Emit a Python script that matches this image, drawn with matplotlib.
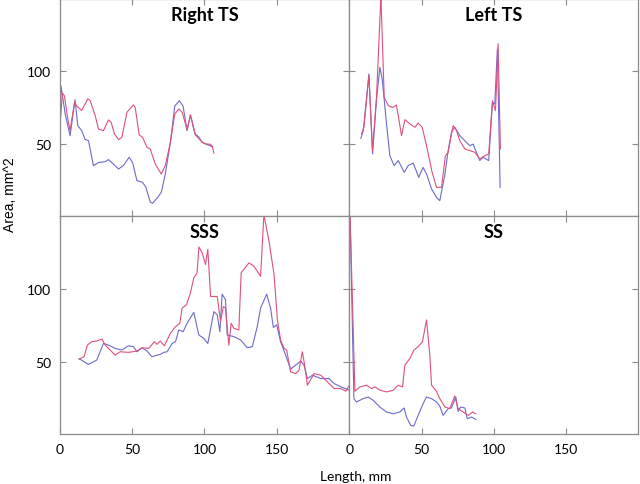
import matplotlib
matplotlib.use('Agg')
import matplotlib.pyplot as plt

# ---------------------------------------------------------------
# Data (length in mm, area in mm^2)
rts_blue_x = [0, 1, 4, 7.3, 10.7, 12.6, 15.3, 17.6, 20, 23.4, 26.9, 31.5, 33.8,
              37.2, 40.7, 44.2, 48, 50.4, 53.4, 57.3, 59.6, 62.6, 64.2, 67.2,
              70.2, 73, 76.5, 79.5, 82.7, 85.2, 88, 90.3, 93.3, 96, 98.4, 101,
              103.7, 105.3]
rts_blue_y = [60, 90, 70, 55.5, 80.4, 62.5, 59, 53, 52, 34.8, 37, 37.5, 39,
              35.8, 32.5, 35, 40.6, 37, 24.4, 23.3, 19.8, 9.5, 8.8, 12.2,
              16.4, 29, 51, 76, 79.7, 76, 59, 69.8, 57, 54.7, 51, 49.6,
              48.6, 47.9]
rts_pink_x = [0, 2, 3.4, 5.7, 7.3, 10.3, 11.9, 15.3, 19.5, 21.1, 24.6, 26.9,
              30.3, 33.8, 35.6, 37.9, 40.7, 43, 46.5, 51, 52.2, 55, 57.3, 60.3,
              62.6, 66, 70.2, 73, 76.5, 79.5, 82.3, 84.6, 88, 90.3, 93.8, 98.4,
              101, 104, 105.3, 106.5]
rts_pink_y = [58, 85, 83, 67, 59, 78.6, 76, 72.9, 81, 79.8, 69.4, 60, 59,
              66.4, 64.8, 56.8, 52.8, 54.4, 71.7, 76.8, 75, 56, 54.4, 47.5,
              46.3, 36, 29, 35, 51, 70.5, 74, 71.7, 59.6, 70, 56, 51, 49.8,
              49.6, 48.5, 43.4]

lts_blue_x = [7.9, 9.6, 13.5, 16, 18.8, 21.1, 22.7, 25.7, 28, 31, 33.8, 38,
              40.7, 44.2, 48, 51, 53.4, 56.9, 60.3, 62.6, 66, 68.4, 70.7, 73,
              76.5, 81.1, 83.4, 85.7, 90.3, 92.6, 96.5, 99.1, 100.7, 102.5,
              104.4]
lts_blue_y = [53.7, 59, 98.2, 42.9, 81, 102.8, 94.7, 63.6, 41.7, 34.8, 38.3,
              30.2, 34.8, 36.6, 26.7, 33.6, 29.1, 18.7, 12.9, 10.6, 27.8, 45.2,
              57.9, 61.3, 55.5, 50.9, 48.6, 49.7, 38.3, 40.6, 38.3, 78.5, 77.4,
              115.5, 19.8]
lts_pink_x = [8.4, 10, 13.5, 16, 18.8, 21.8, 24.1, 26.9, 29.9, 32.6, 36.1,
              38.4, 41.9, 45.4, 47.6, 50.4, 53.4, 57.3, 60.3, 63.8, 66.5, 68.4,
              70.7, 71.9, 74.2, 76.5, 80, 83.4, 86.9, 90.3, 93.8, 96.5, 99.1,
              101.2, 103, 104.6]
lts_pink_y = [56.7, 61.3, 97, 45.2, 83, 152, 82, 76.3, 75, 76.7, 55.5, 66.6,
              63.6, 61.3, 64.3, 61.3, 48.6, 30.2, 19.8, 19.8, 41.7, 44, 56.7,
              62.5, 59, 52, 46.3, 45.2, 44, 39.5, 41.7, 42.9, 79.7, 72.8, 119,
              46.3]

sss_blue_x = [13.5, 19.9, 25.7, 30.3, 33.8, 38.4, 43, 47.6, 51, 53.4, 56.9,
              60.3, 63.8, 67.2, 69.5, 71.9, 74.2, 77.7, 80, 82.3, 85.3, 88,
              92.6, 96.1, 99.5, 102.3, 106.5, 108.8, 110.6, 112.2, 114.5,
              115.7, 120.3, 124.9, 129.5, 133, 136.4, 138.7, 142.9, 145.6,
              147.5, 149.8, 152.5, 156, 159.4, 162.9, 166.4, 168.7, 171,
              174.5, 180.2, 186, 189.5, 194.1, 199.9]
sss_blue_y = [52, 48, 51, 62.4, 61.3, 59, 57.9, 60.8, 60.2, 56.7, 59.5, 57.2,
              53.3, 54.4, 54.9, 56.3, 56.7, 62.4, 63.6, 71.7, 70.5, 76.3, 83.8,
              68.2, 65.9, 62.4, 84.3, 82, 70.5, 96.3, 92.4, 68.2, 67.1, 64.8,
              59.5, 60.2, 74, 86.7, 96.3, 86.7, 73.4, 75.2, 63.6, 54.4, 44.8,
              47.5, 50.3, 47.5, 38.3, 40.6, 38.3, 38.3, 34.8, 32.6, 30.3]
sss_pink_x = [13.5, 16.9, 19.2, 22.2, 25.7, 29.2, 31.5, 34.9, 38.4, 41.9,
              47.6, 53.4, 56.9, 61.5, 65.4, 67.2, 69.5, 72.3, 76.5, 80, 83,
              84.6, 87.6, 90.3, 92.6, 94.9, 96.1, 98.4, 100.7, 102.3, 104.2,
              108.8, 111.1, 113, 114.5, 116.8, 118.4, 120.3, 123.7, 125.3,
              130.7, 134.1, 138.7, 141, 144.5, 148, 150.3, 152.5, 154.9, 156.7,
              159.4, 162.9, 165.2, 167.5, 169.1, 171, 175.6, 180.2, 184.8,
              189.5, 194.1, 197.5, 199.9]
sss_pink_y = [51.6, 53.3, 61.3, 63.6, 64.1, 65.5, 61.3, 57.9, 54.4, 56.7,
              56.3, 57.2, 59.5, 59, 63.6, 61.8, 64.1, 60.8, 69.4, 74, 76.3,
              86.7, 89, 97.1, 107.5, 110.9, 128.7, 124.8, 116.7, 127.1, 94.7,
              94.7, 77.4, 87.8, 86.7, 61.3, 76.3, 72.8, 71.7, 110.9, 117.8,
              115.5, 108.6, 151, 132.8, 109.7, 78.6, 64.8, 59, 57.9, 42.9,
              41.7, 44, 56.7, 47.5, 33.7, 41.7, 40.6, 36, 31.4, 31.4, 29.6,
              33.7]

ss_blue_x = [0.4, 3.1, 4.9, 9.5, 13, 16.5, 21.1, 25.7, 30.3, 34.9, 37.9, 39.5,
             42.5, 44.6, 47.6, 51, 53.4, 56.9, 60.3, 62.6, 64.9, 68.4, 70.7,
             73.7, 75.3, 77, 80, 81.6, 84.6, 87.6]
ss_blue_y = [152, 24.5, 22.2, 24.5, 25.6, 23.3, 18.7, 15.3, 14.1, 15.3, 18.1,
             11.9, 6.1, 5.7, 13, 21, 25.6, 24.5, 22.2, 19.4, 13, 17.6, 18.1,
             25.6, 15.7, 18.7, 18.1, 10.7, 11.9, 10.2]
ss_pink_x = [0.4, 3.8, 7.3, 11.9, 15.3, 17.6, 21.1, 25.7, 30.3, 33.8, 36.8,
             38.4, 41.9, 44.7, 47.6, 50.6, 53.4, 55.7, 56.9, 60.3, 62.6, 66.1,
             69.5, 73, 75.3, 78.8, 82.3, 85.3, 87.6]
ss_pink_y = [152, 29.6, 32.6, 33.7, 31.4, 32.6, 30.3, 29.1, 30.3, 33.7, 32.6,
             47.5, 52.1, 57.9, 60.2, 63.6, 78.6, 54.4, 33.7, 29.6, 24.5, 18.8,
             17.6, 26.3, 17.6, 15.3, 13, 15.3, 14.1]

titles = ['Right TS', 'Left TS', 'SSS', 'SS']
x_ticks = [0, 50, 100, 150]
y_ticks = [50, 100]

BLUE = '#6b6bcf'
PINK = '#e0507c'
GRAY = '#8a8a8a'

plt.rcParams['font.family'] = ['Lato', 'DejaVu Sans']

fig = plt.figure(figsize=(6.4, 4.85), dpi=100)

# left, bottom, width, height (figure fraction), panels touch each other
boxes = [(0.093, 0.5526, 0.453, 0.4474),
         (0.546, 0.5526, 0.451, 0.4474),
         (0.093, 0.1025, 0.453, 0.4501),
         (0.546, 0.1025, 0.451, 0.4501)]
series = [(rts_blue_x, rts_blue_y, rts_pink_x, rts_pink_y),
          (lts_blue_x, lts_blue_y, lts_pink_x, lts_pink_y),
          (sss_blue_x, sss_blue_y, sss_pink_x, sss_pink_y),
          (ss_blue_x, ss_blue_y, ss_pink_x, ss_pink_y)]

for i, (box, (bx, by, px, py)) in enumerate(zip(boxes, series)):
    ax = fig.add_axes(box)
    ax.plot(bx, by, color=BLUE, lw=0.8)
    ax.plot(px, py, color=PINK, lw=0.8)
    ax.set_xlim(0, 200)
    ax.set_ylim(0, 150)
    ax.set_xticks(x_ticks)
    ax.set_yticks(y_ticks)
    ax.tick_params(direction='in', length=4, width=0.8, color=GRAY,
                   top=True, right=True, labelsize=10, pad=6)
    for s in ax.spines.values():
        s.set_color(GRAY)
        s.set_linewidth(0.9)
    if i % 2 == 1:
        ax.tick_params(labelleft=False)
    if i < 2:
        ax.tick_params(labelbottom=False)
    ax.text(0.5, 0.927, titles[i], transform=ax.transAxes, ha='center',
            va='center', fontsize=13, fontweight='bold')

fig.text(0.016, 0.598, 'Area, mm^2', rotation=90, ha='center', va='center',
         fontsize=10, family='Liberation Sans')
fig.text(0.555, 0.017, 'Length, mm', ha='center', va='center', fontsize=10)

fig.savefig('out.png', dpi=100)
